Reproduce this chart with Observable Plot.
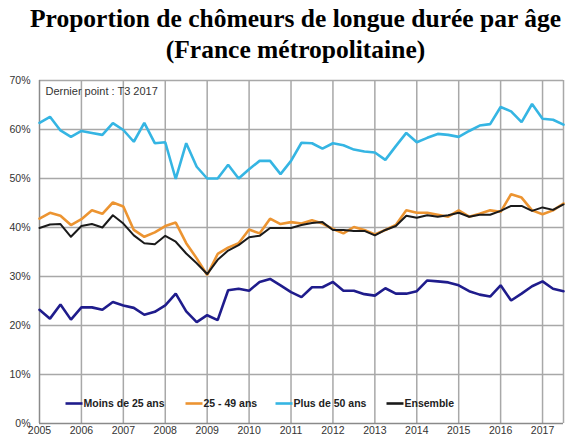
<!DOCTYPE html>
<html><head><meta charset="utf-8">
<script src="https://cdn.jsdelivr.net/npm/d3@7"></script>
<script src="https://cdn.jsdelivr.net/npm/@observablehq/plot@0.6"></script>
<style>
body{margin:0;background:#fff;}
#title{font-family:"Liberation Serif","Times New Roman",serif;font-weight:bold;font-size:25.5px;text-align:center;line-height:31px;width:571px;padding-top:3px;padding-left:20px;height:70px;box-sizing:border-box;color:#000;}
</style></head><body>
<div id="title">Proportion de chômeurs de longue durée par âge<br>(France métropolitaine)</div>
<div id="chart"></div>
<script>
// Series names and colours
const seriesNames = ["Moins de 25 ans", "25 - 49 ans", "Plus de 50 ans", "Ensemble"];
const seriesColors = ["#1f1c8c", "#ec9431", "#35b5e3", "#1a1a1a"];
// Quarterly values, T1 2005 .. T3 2017 (%)
const moins25 = [23.2,21.4,24.3,21.2,23.7,23.7,23.2,24.8,24.1,23.6,22.2,22.8,24.1,26.5,22.9,20.7,22.1,21.1,27.2,27.5,27.1,28.9,29.5,28.2,26.8,25.8,27.8,27.8,28.9,27.1,27.1,26.4,26.1,27.6,26.5,26.5,27.0,29.2,29.0,28.8,28.2,27.0,26.3,25.9,28.2,25.1,26.5,28.0,29.0,27.5,27.0];
const age2549 = [41.8,43.0,42.4,40.5,41.7,43.5,42.8,45.1,44.3,39.5,38.1,39.0,40.3,41.0,36.8,33.7,30.3,34.6,35.9,36.8,39.6,38.8,41.8,40.7,41.1,40.8,41.5,40.8,39.7,38.8,40.1,39.5,38.6,39.5,40.5,43.5,43.0,43.0,42.6,42.2,43.5,42.2,42.8,43.5,43.2,46.8,46.1,43.5,42.7,43.5,44.9];
const plus50 = [61.35,62.6,59.8,58.5,59.7,59.3,58.9,61.3,59.9,57.5,61.35,57.2,57.4,49.9,57.2,52.4,50.0,50.0,52.8,50.0,51.9,53.6,53.6,50.9,53.6,57.3,57.2,56.1,57.2,56.8,55.9,55.5,55.3,53.8,56.6,59.3,57.4,58.3,59.1,58.9,58.5,59.7,60.8,61.1,64.6,63.7,61.5,65.2,62.2,62.0,61.0];
const ensemble = [39.9,40.6,40.7,38.1,40.3,40.7,40.0,42.5,40.8,38.4,36.8,36.6,38.3,37.1,34.7,32.7,30.5,33.4,35.3,36.4,38.0,38.3,39.9,39.9,39.9,40.5,40.9,41.1,39.5,39.5,39.3,39.3,38.4,39.5,40.3,42.4,42.0,42.5,42.2,42.5,43.0,42.2,42.6,42.6,43.4,44.4,44.4,43.4,44.1,43.6,44.7];
const yearTicks = [2005,2006,2007,2008,2009,2010,2011,2012,2013,2014,2015,2016,2017];
const yTicks = [0,10,20,30,40,50,60,70];
const annotation = "Dernier point : T3 2017";

const firstYear = 2005;
const allValues = [moins25, age2549, plus50, ensemble];
const data = allValues.flatMap((vals, s) => vals.map((v, i) => ({t: firstYear + i / 4, v, name: seriesNames[s]})));

// layout helpers (pixel -> data units)
const W = 571, H = 368, mL = 39, mR = 8, mT = 10, mB = 15;
const xMin = 2005, xMax = 2017.5;
const px2x = px => xMin + (px - mL) * (xMax - xMin) / (W - mL - mR);
const py2y = py => (H - mB - py) * 70 / (H - mT - mB); // py in svg coords
const legendStart = [65, 185, 275, 386];
const legendItems = seriesNames.map((n, i) => ({name: n, x1: px2x(legendStart[i]), x2: px2x(legendStart[i] + 17), xt: px2x(legendStart[i] + 18)}));
const legendY = py2y(333);

const chart = Plot.plot({
  width: W, height: H, marginTop: mT, marginLeft: mL, marginRight: mR, marginBottom: mB,
  style: {fontFamily: "'Liberation Sans', Arial, sans-serif", fontSize: "10.5px", color: "#333", background: "#fff", overflow: "visible"},
  x: {domain: [xMin, xMax], label: null},
  y: {domain: [0, 70], label: null},
  color: {domain: seriesNames, range: seriesColors},
  marks: [
    Plot.ruleX(yearTicks.slice(1), {stroke: "#a8a8a8", strokeWidth: 1.5}),
    Plot.ruleY(yTicks.slice(1), {stroke: "#a8a8a8", strokeWidth: 1.5}),
    Plot.ruleX([xMax], {stroke: "#a8a8a8", strokeWidth: 1.5}),
    Plot.ruleX([xMin], {stroke: "#8a8a8a", strokeWidth: 1.5}),
    Plot.ruleY([0], {stroke: "#8a8a8a", strokeWidth: 1.5}),
    Plot.axisX({ticks: yearTicks, tickFormat: d => String(d), tickSize: 0, tickPadding: 3, fill: "#333"}),
    Plot.axisY({ticks: yTicks, tickFormat: d => d + "%", tickSize: 0, tickPadding: 9, fill: "#333"}),
    Plot.text([annotation], {x: px2x(45), y: py2y(21), text: d => d, textAnchor: "start", fill: "#333", fontSize: 11}),
    Plot.line(data.filter(d => d.name !== "Ensemble"), {x: "t", y: "v", z: "name", stroke: "name", strokeWidth: 2.6, strokeLinejoin: "miter"}),
    Plot.line(data.filter(d => d.name === "Ensemble"), {x: "t", y: "v", stroke: "name", strokeWidth: 2}),
    Plot.link(legendItems, {x1: "x1", x2: "x2", y1: legendY, y2: legendY, stroke: "name", strokeWidth: 2.6}),
    Plot.text(legendItems, {x: "xt", y: legendY, text: "name", textAnchor: "start", fontWeight: "bold", fill: "#222", fontSize: 10.5})
  ]
});
document.getElementById("chart").appendChild(chart);
</script>
</body></html>
